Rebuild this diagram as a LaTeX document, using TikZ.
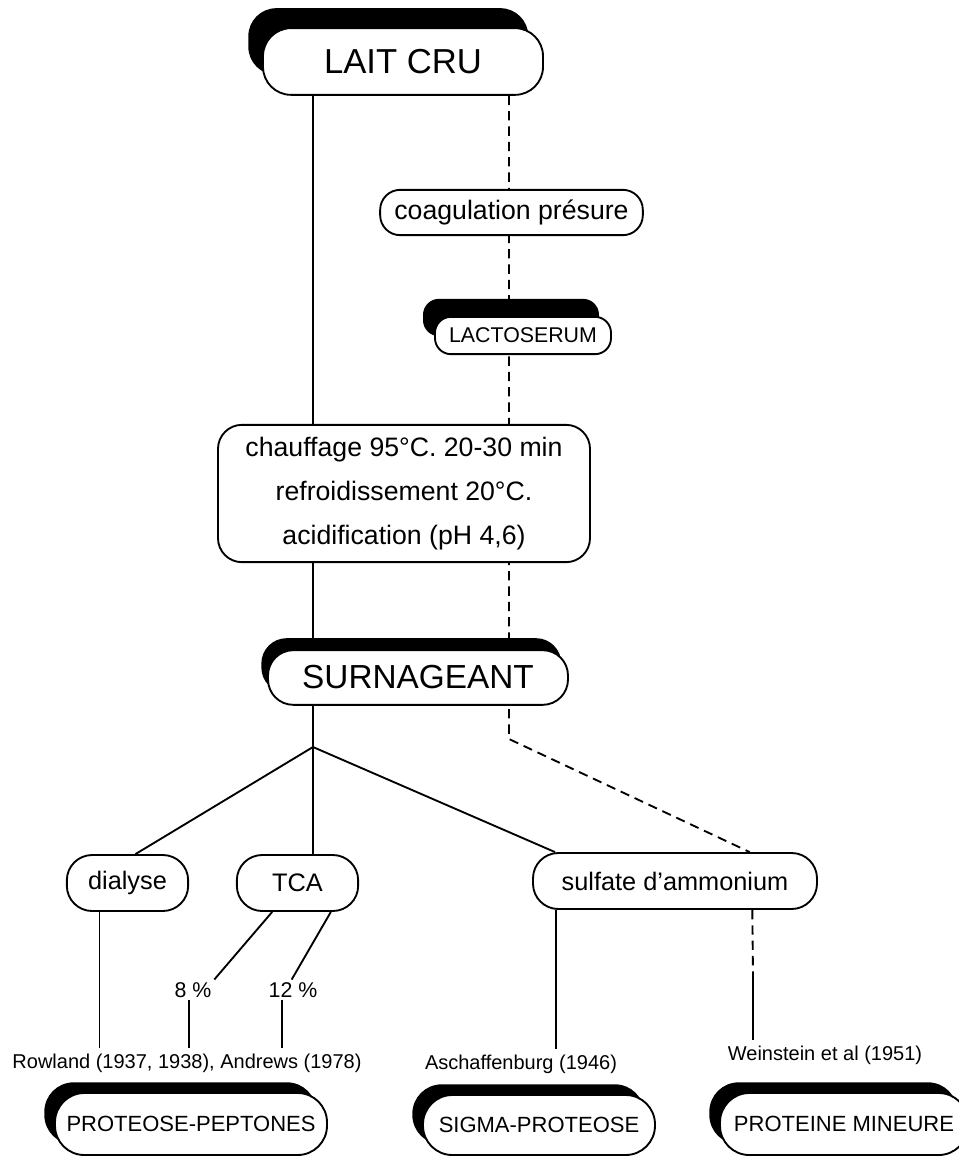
\documentclass[tikz,border=0pt]{standalone}
\usepackage{fontspec}
\setmainfont{Liberation Sans}
\usetikzlibrary{shadows}
\usetikzlibrary{backgrounds}

\begin{document}
\begin{tikzpicture}[x=0.75pt,y=-0.75pt,
    procbox/.style={draw, line width=1.4pt, fill=white, rounded corners=19pt,
      inner sep=0pt, align=center},
    prodbox/.style={procbox, drop shadow={fill=black, opacity=1, #1}},
    link/.style={line width=1.4pt},
    dashlink/.style={line width=1.4pt, dash pattern=on 7pt off 4.5pt},
    pct/.style={inner sep=2pt, font=\fontsize{16}{19}\selectfont},
    refnote/.style={inner xsep=1pt, inner ysep=4pt, font=\fontsize{15}{18}\selectfont}]
    \useasboundingbox (0,0) rectangle (958,1158);

    % main chain
    \node[prodbox={shadow xshift=-11pt, shadow yshift=15pt}, rounded corners=21pt,
      minimum width=210pt, minimum height=50pt,
      font=\fontsize{26}{30}\selectfont] (lait) at (403,61.5) {LAIT CRU};
    \node[procbox, rounded corners=15pt, minimum width=197pt, minimum height=34pt,
      font=\fontsize{20}{24}\selectfont] (coag) at (511.5,212.5) {coagulation présure};
    \node[prodbox={shadow xshift=-9pt, shadow yshift=13.5pt}, rounded corners=12pt,
      minimum width=132pt, minimum height=28pt,
      font=\fontsize{16}{19}\selectfont] (lacto) at (523,335.5) {LACTOSERUM};
    \node[procbox, rounded corners=18pt, minimum width=279pt, minimum height=103pt,
      font=\fontsize{20}{33}\selectfont] (chauf) at (404,493.5)
      {chauffage 95°C. 20-30 min\\refroidissement 20°C.\\acidification (pH 4,6)};
    \node[prodbox={shadow xshift=-5pt, shadow yshift=9pt},
      minimum width=225pt, minimum height=41pt,
      font=\fontsize{25}{30}\selectfont] (surn) at (418,677.5) {SURNAGEANT};

    % fractionation
    \node[procbox, minimum width=91pt, minimum height=42pt,
      font=\fontsize{19}{23}\selectfont] (dial) at (127.5,883) {dialyse};
    \node[procbox, minimum width=91pt, minimum height=42pt,
      font=\fontsize{19}{23}\selectfont] (tca) at (297.5,883) {TCA};
    \node[procbox, minimum width=213pt, minimum height=42pt,
      font=\fontsize{19}{23}\selectfont] (sulf) at (675,881) {sulfate d'ammonium};
    \node[pct] (p8) at (193,990) {8 \%};
    \node[pct] (p12) at (293,990) {12 \%};

    % references
    \node[refnote] (ref1) at (187,1063) {Rowland (1937, 1938), Andrews (1978)};
    \node[refnote] (ref2) at (521,1064) {Aschaffenburg (1946)};
    \node[refnote] (ref3) at (825,1055) {Weinstein et al (1951)};

    % products
    \node[prodbox={shadow xshift=-8pt, shadow yshift=8pt}, rounded corners=22pt,
      minimum width=204pt, minimum height=46.5pt,
      font=\fontsize{16.5}{20}\selectfont] (pp) at (191,1124) {PROTEOSE-PEPTONES};
    \node[prodbox={shadow xshift=-8pt, shadow yshift=8pt}, rounded corners=22pt,
      minimum width=174pt, minimum height=45pt,
      font=\fontsize{16.5}{20}\selectfont] (sigma) at (539,1125) {SIGMA-PROTEOSE};
    \node[prodbox={shadow xshift=-8pt, shadow yshift=8pt}, rounded corners=22pt,
      minimum width=186pt, minimum height=46.5pt,
      font=\fontsize{16.5}{20}\selectfont] (mineure) at (844,1124) {PROTEINE MINEURE};

    \coordinate (fork) at (313,747);
    \coordinate (bend) at (509,739);
    \coordinate (wbreak) at (753,977);

    \begin{scope}[on background layer]
      \draw[link] (lait.south -| fork) -- (fork);
      \draw[dashlink] (lait.south -| bend) -- (bend) -- ([xshift=56pt]sulf.north);
      \draw[link] (fork) -- ([xshift=6pt]dial.north);
      \draw[link] (fork) -- (tca.north -| fork);
      \draw[link] (fork) -- ([xshift=-90pt]sulf.north);
      \draw[link] ([xshift=-19pt]tca.south) -- (p8.north east);
      \draw[link] ([xshift=25pt]tca.south) -- ([xshift=-1pt]p12.north);
      \draw[link] ([xshift=-3pt]p8.south) -- ([xshift=-3pt]p8.south |- ref1.north);
      \draw[link] ([xshift=-8pt]p12.south) -- ([xshift=-8pt]p12.south |- ref1.north);
      \draw[link] ([xshift=-21pt]dial.south) -- ([xshift=-21pt]dial.south |- ref1.north);
      \draw[link] ([xshift=-89pt]sulf.south) -- ([xshift=-89pt]sulf.south |- ref2.north);
      \draw[dashlink] ([xshift=58pt]sulf.south) -- (wbreak);
      \draw[link] (wbreak) -- (wbreak |- ref3.north);
    \end{scope}
\end{tikzpicture}
\end{document}
